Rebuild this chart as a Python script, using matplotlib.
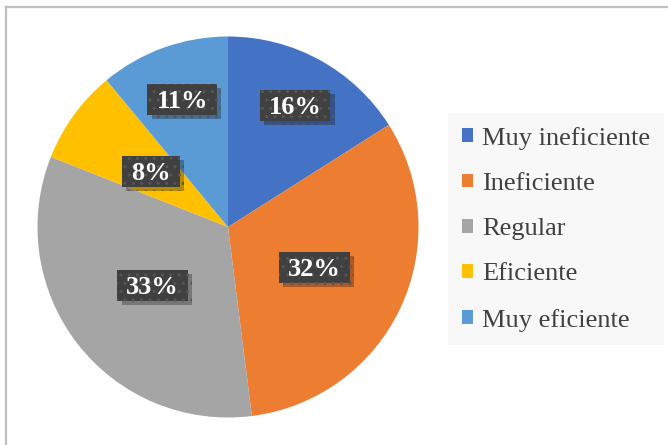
import matplotlib
matplotlib.use("Agg")
import matplotlib.pyplot as plt
import numpy as np
from matplotlib.lines import Line2D
from matplotlib.patches import Rectangle
from matplotlib import patheffects as pe

categories = ["Muy ineficiente", "Ineficiente", "Regular", "Eficiente", "Muy eficiente"]
values = [16, 32, 33, 8, 11]
colors = ["#4472C4", "#ED7D31", "#A5A5A5", "#FFC000", "#5B9BD5"]
label_dist = [0.73, 0.50, 0.50, 0.50, 0.71]

plt.rcParams["font.family"] = ["Liberation Serif", "DejaVu Serif"]

W, H = 668, 445
fig = plt.figure(figsize=(W / 100, H / 100), dpi=100)
fig.patch.set_facecolor("white")

# chart-area border (top and left edges)
fig.add_artist(Line2D([5.5 / W, 5.5 / W], [0, 1 - 6.5 / H], transform=fig.transFigure,
                      color="#bfbfbf", lw=1.6))
fig.add_artist(Line2D([5.5 / W, 1], [1 - 6.5 / H, 1 - 6.5 / H], transform=fig.transFigure,
                      color="#bfbfbf", lw=1.6))

cx, cy, R = 228, 227, 190.5
ax = fig.add_axes([(cx - R) / W, (H - cy - R) / H, 2 * R / W, 2 * R / H])
ax.axis("off")

wedges, _ = ax.pie(values, colors=colors, startangle=90, counterclock=False,
                   radius=1.0, wedgeprops=dict(linewidth=0))
ax.set_xlim(-1, 1)
ax.set_ylim(-1, 1)

fig.canvas.draw()
renderer = fig.canvas.get_renderer()

px = 1.0 / R          # one pixel in data units
fs = 19
cap_h = 0.66 * fs * 100 / 72
box_h = 31
pad_x = 9

for w, v, d in zip(wedges, values, label_dist):
    ang = np.deg2rad((w.theta1 + w.theta2) / 2)
    x, y = d * np.cos(ang), d * np.sin(ang)
    t = ax.text(x, y - cap_h / 2 * px, f"{v}%", ha="center", va="baseline",
                fontsize=fs, fontweight="bold", color="white", zorder=5)
    tw = t.get_window_extent(renderer).width
    bw = tw + 2 * pad_x
    box = Rectangle((x - bw / 2 * px, y - box_h / 2 * px), bw * px, box_h * px,
                    facecolor="#404040", edgecolor="#565656", hatch="..",
                    linewidth=0, zorder=4)
    box.set_path_effects([
        pe.SimplePatchShadow(offset=(3, -3), shadow_rgbFace="black", alpha=0.28),
        pe.Normal(),
    ])
    ax.add_patch(box)

leg = fig.legend(wedges, categories, loc="upper left",
                 bbox_to_anchor=(448 / W, 1 - 113 / H), fontsize=19,
                 frameon=True, fancybox=False, handlelength=0.42, handleheight=0.42,
                 handletextpad=0.34, labelspacing=0.88, borderpad=0.52,
                 borderaxespad=0)
leg.get_frame().set_facecolor("#f7f7f7")
leg.get_frame().set_edgecolor("none")
for t in leg.get_texts():
    t.set_color("#404040")

fig.savefig("out.png", dpi=100)
